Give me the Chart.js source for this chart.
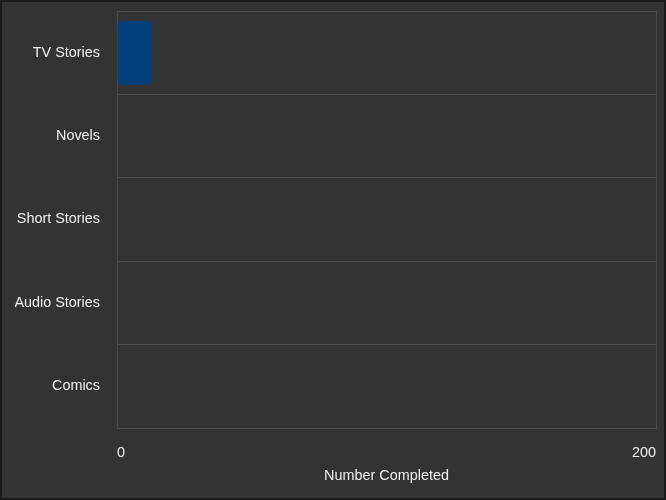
<!DOCTYPE html>
<html>
<head>
<meta charset="utf-8">
<script src="https://cdn.jsdelivr.net/npm/chart.js@4"></script>
<style>
    html, body { margin: 0; padding: 0; background: #333; }
    #wrap {
        width: 666px; height: 500px; box-sizing: border-box;
        border: 2px solid #1a1a1a; background: #333; padding: 0;
    }
</style>
</head>
<body>
<div id="wrap"><canvas id="storiesChart" width="662" height="496"></canvas></div>
<script>
// Chart data
const categories = ['TV Stories', 'Novels', 'Short Stories', 'Audio Stories', 'Comics'];
const completed = [13, 0, 0, 0, 0];
const axisTicks = [0, 200];

const textColor = '#f0f0f0';
const gridColor = '#4a4a4a';
const font = { family: 'Liberation Sans', size: 14.4 };

const ctx = document.getElementById('storiesChart').getContext('2d');
new Chart(ctx, {
    type: 'bar',
    data: {
        labels: categories,
        datasets: [{
            label: 'Completed',
            data: completed,
            backgroundColor: '#003e7c',
            borderRadius: 5,
            borderSkipped: false,
            categoryPercentage: 0.8,
            barPercentage: 0.96
        }]
    },
    options: {
        indexAxis: 'y',
        responsive: false,
        animation: false,
        layout: { padding: { top: 9, right: 8, left: 13, bottom: 0 } },
        plugins: {
            legend: { display: false },
            tooltip: { enabled: false }
        },
        scales: {
            x: {
                min: axisTicks[0],
                max: axisTicks[axisTicks.length - 1],
                afterBuildTicks: axis => {
                    axis.ticks = axisTicks.map(v => ({ value: v }));
                },
                afterFit: axis => {
                    axis.height = 70;
                    axis.paddingLeft = 0;
                    axis.paddingRight = 0;
                },
                grid: { color: gridColor, drawTicks: false },
                border: { color: gridColor },
                ticks: {
                    color: textColor,
                    align: 'inner',
                    padding: 16,
                    font: font
                },
                title: {
                    display: true,
                    text: 'Number Completed',
                    color: textColor,
                    padding: { top: 4, bottom: 13 },
                    font: font
                }
            },
            y: {
                afterFit: axis => {
                    axis.width = 102;
                    axis.paddingTop = 0;
                    axis.paddingBottom = 0;
                },
                grid: { color: gridColor, drawTicks: false },
                border: { color: gridColor },
                ticks: {
                    color: textColor,
                    padding: 17,
                    font: font
                }
            }
        }
    }
});
</script>
</body>
</html>
